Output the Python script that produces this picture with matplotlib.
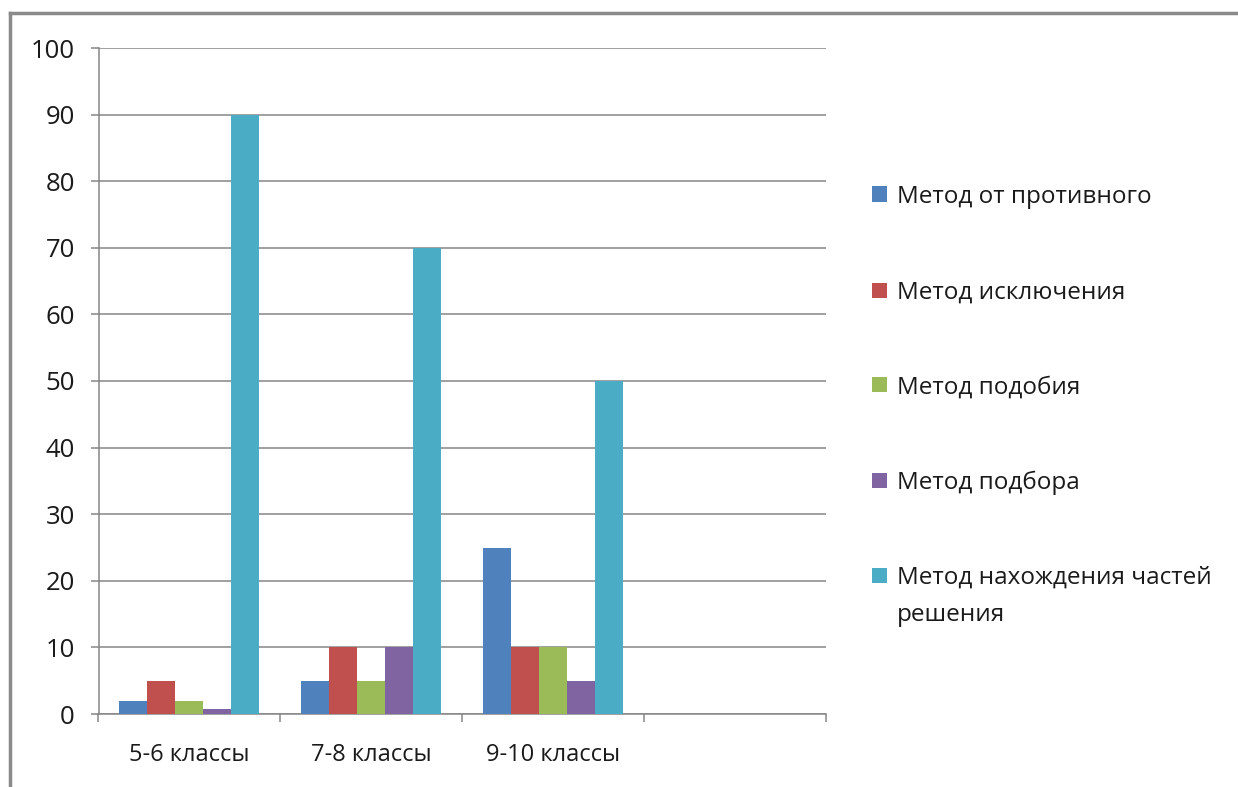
import numpy as np
import matplotlib.pyplot as plt
from matplotlib.patches import Rectangle
from matplotlib.lines import Line2D

plt.rcParams['font.family'] = ['Open Sans', 'DejaVu Sans']

# --- data ---
categories = ["5-6 классы", "7-8 классы", "9-10 классы"]
series_names = [
    "Метод от противного",
    "Метод исключения",
    "Метод подобия",
    "Метод подбора",
    "Метод нахождения частей\nрешения",
]
protivnogo = [2, 5, 25]
isklyucheniya = [5, 10, 10]
podobiya = [2, 5, 10]
podbora = [0.7, 10, 5]
chastey = [90, 70, 50]

colors = ["#4F81BD", "#C0504D", "#9BBB59", "#8064A2", "#4BACC6"]
n_slots = 4  # the chart keeps an empty fourth category slot

W, H = 1238, 787
fig = plt.figure(figsize=(W / 100, H / 100), dpi=100)
ax = fig.add_axes([98.5 / W, 1 - 714 / H, (826 - 98.5) / W, (714 - 48) / H])

x = np.arange(len(categories))
width = 1 / 6.5  # excel gap width 150%
all_series = [protivnogo, isklyucheniya, podobiya, podbora, chastey]
for j, (vals, col) in enumerate(zip(all_series, colors)):
    ax.bar(x + (j - 2) * width, vals, width, color=col, edgecolor="none", zorder=3)

ax.set_xlim(-0.5, n_slots - 0.5)
ax.set_ylim(0, 100)
ax.set_yticks(range(0, 101, 10))
ax.yaxis.grid(True, color="#868686", linewidth=1.1, zorder=0)

ax.set_xticks(x)
ax.set_xticklabels(categories)
ax.set_xticks(np.arange(n_slots + 1) - 0.5, minor=True)
ax.tick_params(axis="x", which="major", length=0, pad=21, labelsize=17, colors="#1a1a1a")
ax.tick_params(axis="x", which="minor", length=6, width=1.1, color="#868686")
ax.tick_params(axis="y", length=6, width=1.1, color="#868686", pad=11, labelsize=18.5,
               labelcolor="#1a1a1a")

for side in ["top", "right"]:
    ax.spines[side].set_visible(False)
for side in ["left", "bottom"]:
    ax.spines[side].set_color("#868686")
    ax.spines[side].set_linewidth(1.1)

# legend, drawn by hand to match the spacing of the original
leg_y = [194, 290, 385, 480, 575]
line_gap = 37
for name, col, yy in zip(series_names, colors, leg_y):
    fig.add_artist(Rectangle((872 / W, 1 - (yy + 7.5) / H), 15 / W, 15 / H,
                             facecolor=col, edgecolor="none"))
    # baseline alignment follows the last line of a multi-line label
    base = yy + 9 + line_gap * name.count("\n")
    fig.text(897 / W, 1 - base / H, name, fontsize=17.5, color="#1a1a1a",
             va="baseline", ha="left", linespacing=1.75)

# outer frame of the chart area
frame = dict(color="#8a8a8a", linewidth=2.5)
fig.add_artist(Line2D([10 / W, 1.0], [1 - 13 / H, 1 - 13 / H], **frame))
fig.add_artist(Line2D([10 / W, 10 / W], [0, 1 - 13 / H], **frame))

fig.savefig("out.png", dpi=100)
